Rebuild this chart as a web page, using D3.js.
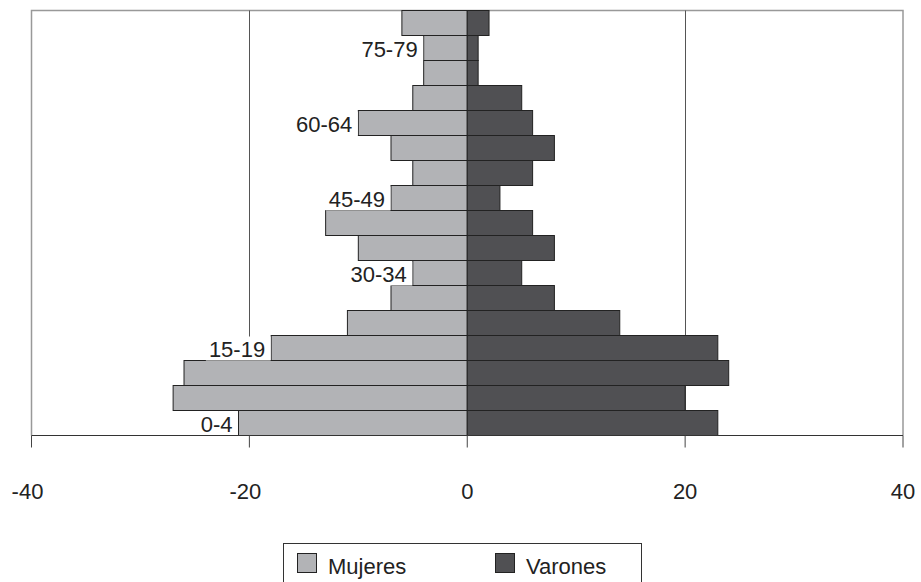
<!DOCTYPE html>
<html>
<head>
<meta charset="utf-8">
<script src="https://cdn.jsdelivr.net/npm/d3@7"></script>
<style>
  html, body { margin: 0; padding: 0; background: #fff; }
  svg { display: block; }
  text { font-family: "Liberation Sans", Arial, sans-serif; fill: #222; }
</style>
</head>
<body>
<svg id="chart" width="921" height="582"></svg>
<script>
// ---- data ----
const categories = ["0-4","5-9","10-14","15-19","20-24","25-29","30-34","35-39","40-44",
                    "45-49","50-54","55-59","60-64","65-69","70-74","75-79","80+"];
const mujeres = [21, 27, 26, 18, 11, 7, 5, 10, 13, 7, 5, 7, 10, 5, 4, 4, 6];
const varones = [23, 20, 24, 23, 14, 8, 5, 8, 6, 3, 6, 8, 6, 5, 1, 1, 2];
const shownLabels = ["0-4","15-19","30-34","45-49","60-64","75-79"];
const xTicks = [-40, -20, 0, 20, 40];
const seriesNames = ["Mujeres", "Varones"];

(function () {
// ---- layout ----
const svg = d3.select("#chart");
const pL = 31.5, pR = 903, pT = 10.5, pB = 435.5;
const colMuj = "#b2b3b6", colVar = "#505053";
const fs = 22;

const x = d3.scaleLinear().domain([-40, 40]).range([pL, pR]);
const y = d3.scaleBand().domain(categories.slice().reverse()).range([pT, pB]).padding(0);

// plot border (gray)
svg.append("path")
  .attr("d", `M${pL},${pB} V${pT} H${pR} V${pB}`)
  .attr("fill", "none").attr("stroke", "#999").attr("stroke-width", 1.5);

// gridlines
svg.append("g").selectAll("line")
  .data(xTicks.filter(d => d !== 0 && Math.abs(d) !== 40))
  .join("line")
  .attr("x1", d => Math.round(x(d)) + 0.5).attr("x2", d => Math.round(x(d)) + 0.5)
  .attr("y1", pT).attr("y2", pB)
  .attr("stroke", "#555").attr("stroke-width", 1);

const data = categories.map((c, i) => ({ cat: c, m: mujeres[i], v: varones[i] }));

// bars
svg.append("g").selectAll("rect")
  .data(data).join("rect")
  .attr("x", d => x(-d.m)).attr("width", d => x(0) - x(-d.m))
  .attr("y", d => y(d.cat)).attr("height", y.bandwidth())
  .attr("fill", colMuj).attr("stroke", "#222").attr("stroke-width", 1);

svg.append("g").selectAll("rect")
  .data(data).join("rect")
  .attr("x", x(0)).attr("width", d => x(d.v) - x(0))
  .attr("y", d => y(d.cat)).attr("height", y.bandwidth())
  .attr("fill", colVar).attr("stroke", "#222").attr("stroke-width", 1);

// category labels (white boxed, at end of women's bar)
const lab = svg.append("g").selectAll("g")
  .data(data.filter(d => shownLabels.includes(d.cat))).join("g");
lab.each(function(d) {
  const g = d3.select(this);
  const t = g.append("text")
    .attr("x", x(-d.m) - 6)
    .attr("y", y(d.cat) + y.bandwidth() / 2 + 9)
    .attr("text-anchor", "end")
    .attr("font-size", fs)
    .text(d.cat);
  const bb = t.node().getBBox();
  g.insert("rect", "text")
    .attr("x", bb.x - 3).attr("y", y(d.cat) + 1)
    .attr("width", x(-d.m) - bb.x + 3 - 0.5).attr("height", y.bandwidth() - 1)
    .attr("fill", "#fff");
});

// x axis line + ticks
svg.append("line")
  .attr("x1", pL).attr("x2", pR).attr("y1", pB).attr("y2", pB)
  .attr("stroke", "#333").attr("stroke-width", 1.2);
svg.append("g").selectAll("line")
  .data(xTicks).join("line")
  .attr("x1", d => x(d)).attr("x2", d => x(d))
  .attr("y1", pB).attr("y2", pB + 12)
  .attr("stroke", "#444").attr("stroke-width", 1);
svg.append("g").selectAll("text")
  .data(xTicks).join("text")
  .attr("x", d => x(d) - (d < 0 ? 4 : 0)).attr("y", 499)
  .attr("text-anchor", "middle").attr("font-size", fs)
  .text(d => String(d));

// legend
const lg = svg.append("g");
lg.append("rect")
  .attr("x", 283.5).attr("y", 543.5).attr("width", 358).attr("height", 60)
  .attr("fill", "#fff").attr("stroke", "#333").attr("stroke-width", 1);
const lx = [297, 495];
const lcol = [colMuj, colVar];
seriesNames.forEach((n, i) => {
  lg.append("rect")
    .attr("x", lx[i] + 0.5).attr("y", 553.5).attr("width", 19).attr("height", 19)
    .attr("fill", lcol[i]).attr("stroke", "#222").attr("stroke-width", 1);
  lg.append("text")
    .attr("x", lx[i] + 31).attr("y", 574)
    .attr("font-size", fs).text(n);
});
})();
</script>
</body>
</html>
